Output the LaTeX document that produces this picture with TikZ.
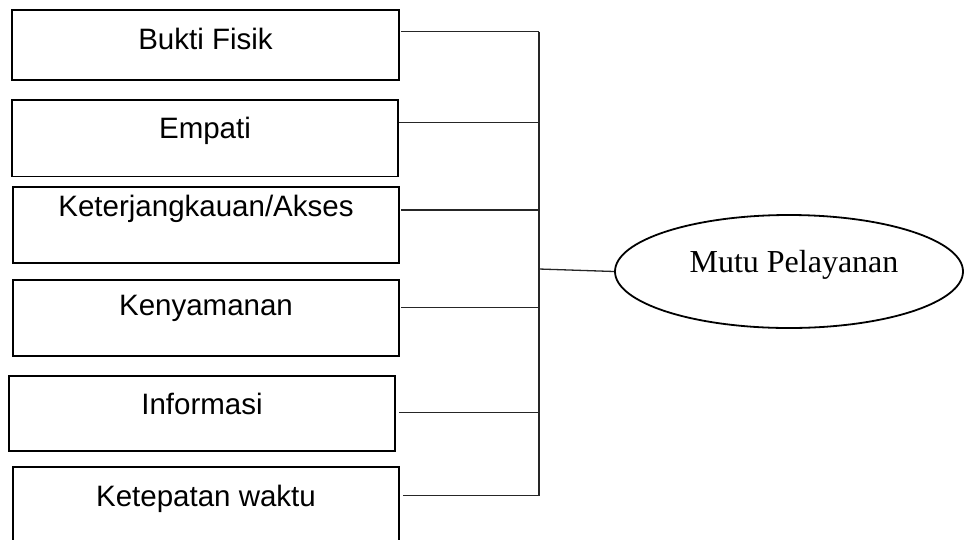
\documentclass[tikz,border=0pt]{standalone}
\usepackage{fontspec}
\setmainfont{Liberation Serif}
\setsansfont{Liberation Sans}
\usetikzlibrary{shapes.geometric}
\begin{document}
\begin{tikzpicture}[x=1pt,y=-1pt,
  factor/.style={draw,line width=1.9pt,rectangle,inner sep=0pt},
  flabel/.style={anchor=base,inner sep=0pt,font=\sffamily\fontsize{29.5}{32}\selectfont},
  wire/.style={draw=black!85,line width=1.3pt},
  goal/.style={draw,ellipse,line width=1.8pt,inner sep=0pt}]
\useasboundingbox (0,0) rectangle (965,539);

% factor boxes
\node[factor,minimum width=387pt,minimum height=70pt]   (b1) at (205.5,45)    {};
\node[factor,minimum width=386pt,minimum height=76.5pt] (b2) at (205,138.25)  {};
\node[factor,minimum width=386pt,minimum height=76pt]   (b3) at (206,225)     {};
\node[factor,minimum width=386pt,minimum height=76pt]   (b4) at (206,318)     {};
\node[factor,minimum width=386pt,minimum height=75pt]   (b5) at (202,413.5)   {};
\node[factor,minimum width=386pt,minimum height=90pt]   (b6) at (206,512)     {};

% box captions
\node[flabel] (t1) at (205.5,49)  {Bukti Fisik};
\node[flabel] (t2) at (205,138)   {Empati};
\node[flabel] (t3) at (206,216.7) {Keterjangkauan/Akses};
\node[flabel] (t4) at (206,315)   {Kenyamanan};
\node[flabel] (t5) at (202,414.3) {Informasi};
\node[flabel] (t6) at (206,506.7) {Ketepatan waktu};

% target ellipse
\node[goal,minimum width=348pt,minimum height=113pt] (mutu) at (789,271.5) {};
\node[anchor=base,inner sep=0pt,font=\fontsize{32}{34}\selectfont] (tm) at (794,272.7) {Mutu Pelayanan};

% junctions on the collecting bus
\coordinate (j1) at (539,31.7);
\coordinate (j2) at (539,122.7);
\coordinate (j3) at (539,210);
\coordinate (j4) at (539,307.7);
\coordinate (j5) at (539,412.3);
\coordinate (j6) at (539,495.7);
\coordinate (jm) at (539,269);

% branches, bus and link to the ellipse
\draw[wire] ([xshift=1pt]b1.east |- j1) -- (j1);
\draw[wire] (b2.east |- j2) -- (j2);
\draw[wire] ([xshift=1pt]b3.east |- j3) -- (j3);
\draw[wire] ([xshift=1pt]b4.east |- j4) -- (j4);
\draw[wire] ([xshift=3pt]b5.east |- j5) -- (j5);
\draw[wire] ([xshift=3pt]b6.east |- j6) -- (j6);
\draw[wire] (j1) -- (j6);
\draw[wire] (jm) -- (mutu.west);
\end{tikzpicture}
\end{document}
